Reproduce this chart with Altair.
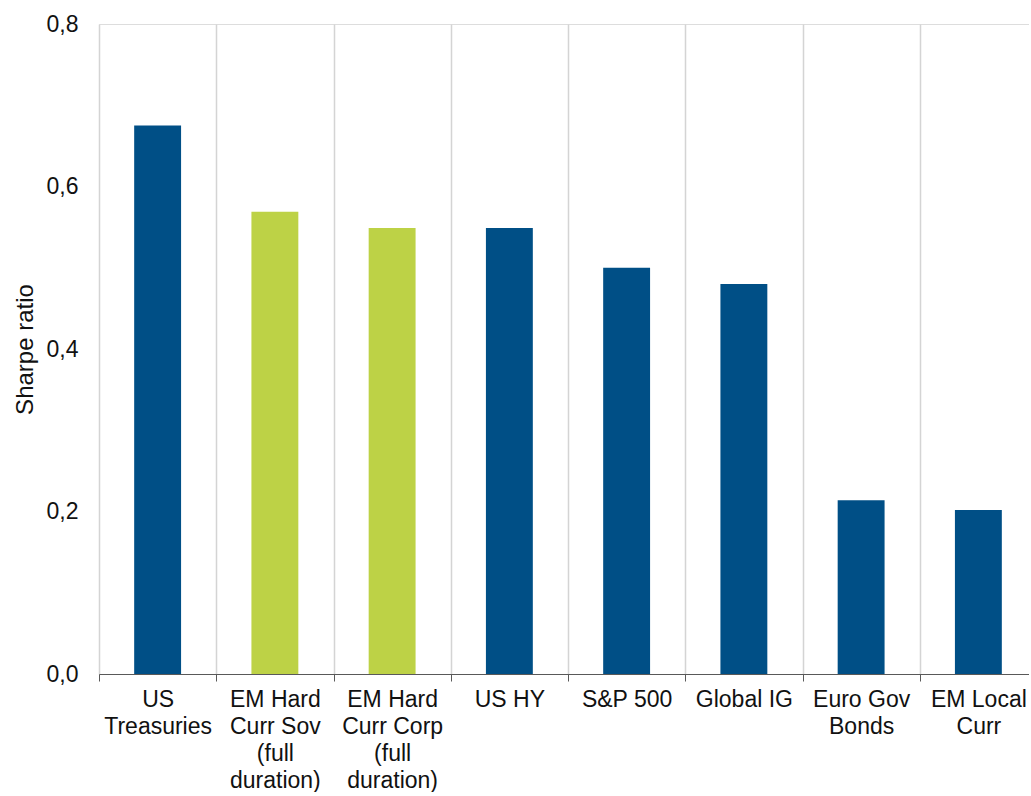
import altair as alt
import pandas as pd

categories = [
    "US|Treasuries",
    "EM Hard|Curr Sov|(full|duration)",
    "EM Hard|Curr Corp|(full|duration)",
    "US HY",
    "S&P 500",
    "Global IG",
    "Euro Gov|Bonds",
    "EM Local|Curr",
]
sharpe = [0.675, 0.569, 0.549, 0.549, 0.50, 0.48, 0.214, 0.202]
group = ["Other", "EM Hard", "EM Hard", "Other", "Other", "Other", "Other", "Other"]
y_ticks = [0.0, 0.2, 0.4, 0.6, 0.8]

df = pd.DataFrame({"cat": categories, "value": sharpe, "group": group})

FONT = "Liberation Sans"

chart = (
    alt.Chart(df)
    .mark_bar(width=alt.RelativeBandSize(0.4))
    .encode(
        x=alt.X(
            "cat:N",
            sort=None,
            title=None,
            scale=alt.Scale(paddingInner=0, paddingOuter=0, range=[0, 938]),
            axis=alt.Axis(
                labelAngle=0,
                labelExpr="split(datum.label, '|')",
                labelLineHeight=27,
                labelFont=FONT,
                labelFontSize=23,
                labelColor="#111111",
                labelPadding=7,
                labelBaseline="top",
                tickBand="extent",
                tickSize=7,
                tickColor="#595959",
                tickWidth=1,
                domainColor="#595959",
                domainWidth=1,
                grid=True,
                gridColor="#d4d4d4",
                gridWidth=1.5,
            ),
        ),
        y=alt.Y(
            "value:Q",
            title="Sharpe ratio",
            scale=alt.Scale(domain=[0, 0.8], nice=False),
            axis=alt.Axis(
                values=y_ticks,
                labelExpr="replace(format(datum.value, '.1f'), '.', ',')",
                labelFont=FONT,
                labelFontSize=23,
                labelColor="#111111",
                labelPadding=21,
                ticks=False,
                domain=False,
                grid=False,
                titleFont=FONT,
                titleFontSize=24,
                titleFontWeight="normal",
                titleColor="#111111",
                titleAngle=-90,
                titleAlign="center",
                titleBaseline="alphabetic",
                titleX=-67,
                titleY=325,
            ),
        ),
        color=alt.Color(
            "group:N",
            scale=alt.Scale(domain=["Other", "EM Hard"], range=["#004f86", "#bdd246"]),
            legend=None,
        ),
    )
    .properties(
        width=930,
        height=650,
        autosize=alt.AutoSizeParams(type="none"),
        padding={"left": 99, "top": 24, "right": 0, "bottom": 118},
    )
    .configure_view(stroke=None)
    .configure(background="white")
)

chart.save("out.html", embed_options={"renderer": "svg", "actions": False})
